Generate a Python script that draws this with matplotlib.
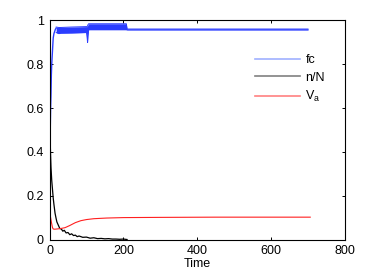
import matplotlib
matplotlib.use("Agg")
import matplotlib.pyplot as plt
from matplotlib.lines import Line2D

plt.rcParams['font.family'] = ['Liberation Sans', 'DejaVu Sans']

# fc (blue): rising part, then oscillating band (lower / upper envelope)
fc_rise_t = [0, 1, 2, 3, 4, 5, 6, 7, 8, 10, 12, 14, 16, 18]
fc_rise_v = [0.17, 0.35, 0.5, 0.6, 0.66, 0.75, 0.8, 0.83, 0.86, 0.92, 0.94, 0.95, 0.96, 0.965]
fc_band_t = [18, 25, 30, 60, 100, 102, 103, 104, 106, 150, 208, 210, 300, 500, 700]
fc_band_lo = [0.945, 0.94, 0.942, 0.943, 0.945, 0.92, 0.90, 0.93, 0.958, 0.958, 0.958, 0.957, 0.957, 0.957, 0.957]
fc_band_hi = [0.97, 0.968, 0.968, 0.97, 0.972, 0.972, 0.975, 0.98, 0.985, 0.985, 0.985, 0.961, 0.961, 0.961, 0.961]

# n/N (black)
n_t = [0, 1, 2, 3, 4, 6, 8, 10, 12, 15, 18, 20, 24, 28, 32, 36, 40, 45, 50, 55, 60, 65, 70, 75,
       80, 90, 100, 110, 120, 130, 140, 150, 160, 170, 180, 190, 200, 210]
n_v = [0.65, 0.52, 0.44, 0.38, 0.33, 0.27, 0.23, 0.19, 0.16, 0.12, 0.095, 0.08, 0.065, 0.05,
       0.048, 0.038, 0.042, 0.03, 0.032, 0.022, 0.026, 0.018, 0.02, 0.013, 0.016, 0.01, 0.011,
       0.006, 0.008, 0.004, 0.005, 0.003, 0.004, 0.002, 0.002, 0.001, 0.002, 0.0]

# V_a (red)
va_t = [0, 2, 5, 8, 10, 14, 20, 30, 42, 55, 70, 85, 100, 120, 155, 200, 300, 450, 600, 706]
va_v = [0.115, 0.11, 0.08, 0.055, 0.048, 0.047, 0.048, 0.05, 0.054, 0.064, 0.077, 0.086, 0.091,
        0.095, 0.098, 0.1, 0.101, 0.102, 0.102, 0.102]

xticks = [0, 200, 400, 600, 800]
yticks = [0, 0.2, 0.4, 0.6, 0.8, 1]

fig = plt.figure(figsize=(3.82, 2.73), dpi=100)
ax = fig.add_axes([0.1296, 0.1227, 0.903 - 0.1296, 0.925 - 0.1227])

blue = '#2b3dff'
ax.plot(fc_rise_t, fc_rise_v, color=blue, lw=1.0)
ax.fill_between(fc_band_t, fc_band_lo, fc_band_hi, color=blue, lw=0)
ax.plot(fc_band_t, fc_band_lo, color=blue, lw=0.7)
ax.plot(fc_band_t, fc_band_hi, color=blue, lw=0.7)
ax.plot(n_t, n_v, color='black', lw=0.9)
ax.plot(va_t, va_v, color='#ff2020', lw=0.8)

ax.set_xlim(0, 800)
ax.set_ylim(0, 1)
ax.set_xticks(xticks)
ax.set_xticklabels([str(v) for v in xticks])
ax.set_yticks(yticks)
ax.set_yticklabels(['0', '0.2', '0.4', '0.6', '0.8', '1'])
ax.tick_params(direction='in', top=True, right=True, length=2.5, width=0.7,
               labelsize=9, pad=4)
for s in ax.spines.values():
    s.set_linewidth(0.8)
ax.set_xlabel('Time', fontsize=9, labelpad=1)

handles = [Line2D([], [], color='#9fb0ff', lw=1.2),
           Line2D([], [], color='#808080', lw=1.2),
           Line2D([], [], color='#ff8080', lw=1.2)]
ax.legend(handles, ['fc', 'n/N', r'V$_{\mathregular{a}}$'], frameon=False, fontsize=9,
          loc='upper left', bbox_to_anchor=(0.68, 0.87), handlelength=3.6,
          handletextpad=0.4, labelspacing=0.45, borderaxespad=0)

fig.savefig('out.png', dpi=100)
